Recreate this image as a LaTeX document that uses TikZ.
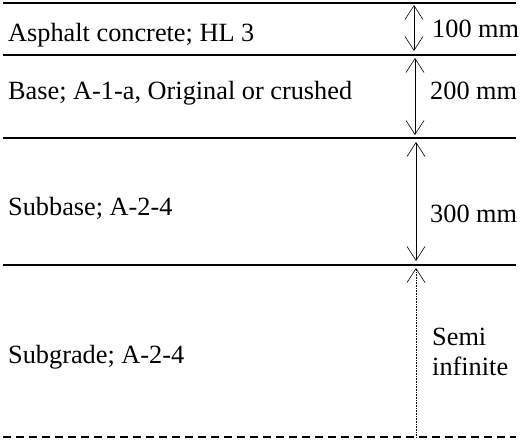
\documentclass[tikz,border=0pt]{standalone}
\usepackage{fontspec}
\setmainfont{Liberation Serif}
\usetikzlibrary{arrows.meta}
\begin{document}
\begin{tikzpicture}[x=1pt,y=-1pt,
  layer/.style={line width=1.8pt},
  lbl/.style={anchor=base west,inner sep=0pt,font=\fontsize{26.3}{30}\selectfont},
  barb/.tip={Straight Barb[length=14pt,width=18pt,line width=0.6pt]},
  dim/.style={line width=0.6pt,barb-barb},
  dimtxt/.style={anchor=base west,inner sep=0pt,font=\fontsize{26.3}{30}\selectfont,align=left}]
\useasboundingbox (0,0) rectangle (520,446);
% layer boundaries
\coordinate (l0a) at (3,3);   \coordinate (l0b) at (516,3);
\coordinate (l1a) at (3,55);  \coordinate (l1b) at (516,55);
\coordinate (l2a) at (3,138); \coordinate (l2b) at (516,138);
\coordinate (l3a) at (3,265); \coordinate (l3b) at (516,265);
\coordinate (l4a) at (3,437); \coordinate (l4b) at (516,437);
\draw[layer] (l0a) -- (l0b);
\draw[layer] (l1a) -- (l1b);
\draw[layer] (l2a) -- (l2b);
\draw[layer] (l3a) -- (l3b);
\draw[layer,dash pattern=on 8pt off 5pt] (l4a) -- (l4b);
% labels
\node[lbl] (t1) at (8,42) {Asphalt concrete; HL 3};
\node[lbl] (t2) at (8,100) {Base; A-1-a, Original or crushed};
\node[lbl] (t3) at (8,216) {Subbase; A-2-4};
\node[lbl] (t4) at (8,364) {Subgrade; A-2-4};
% dimensions
\coordinate (d1a) at (414,5);   \coordinate (d1b) at (414,51);
\coordinate (d2a) at (415,58);  \coordinate (d2b) at (415,135);
\coordinate (d3a) at (416,142); \coordinate (d3b) at (416,261);
\coordinate (d4a) at (416,268); \coordinate (d4b) at (416,437);
\draw[dim] (d1a) -- (d1b);
\draw[dim] (d2a) -- (d2b);
\draw[dim] (d3a) -- (d3b);
\draw[line width=0.6pt,densely dotted,barb-] (d4a) -- (d4b);
\node[dimtxt] (m1) at (432,38) {100 mm};
\node[dimtxt] (m2) at (430,100) {200 mm};
\node[dimtxt] (m3) at (430,223) {300 mm};
\node[dimtxt] (m4) at (432,376) {Semi\\infinite};
\end{tikzpicture}
\end{document}
